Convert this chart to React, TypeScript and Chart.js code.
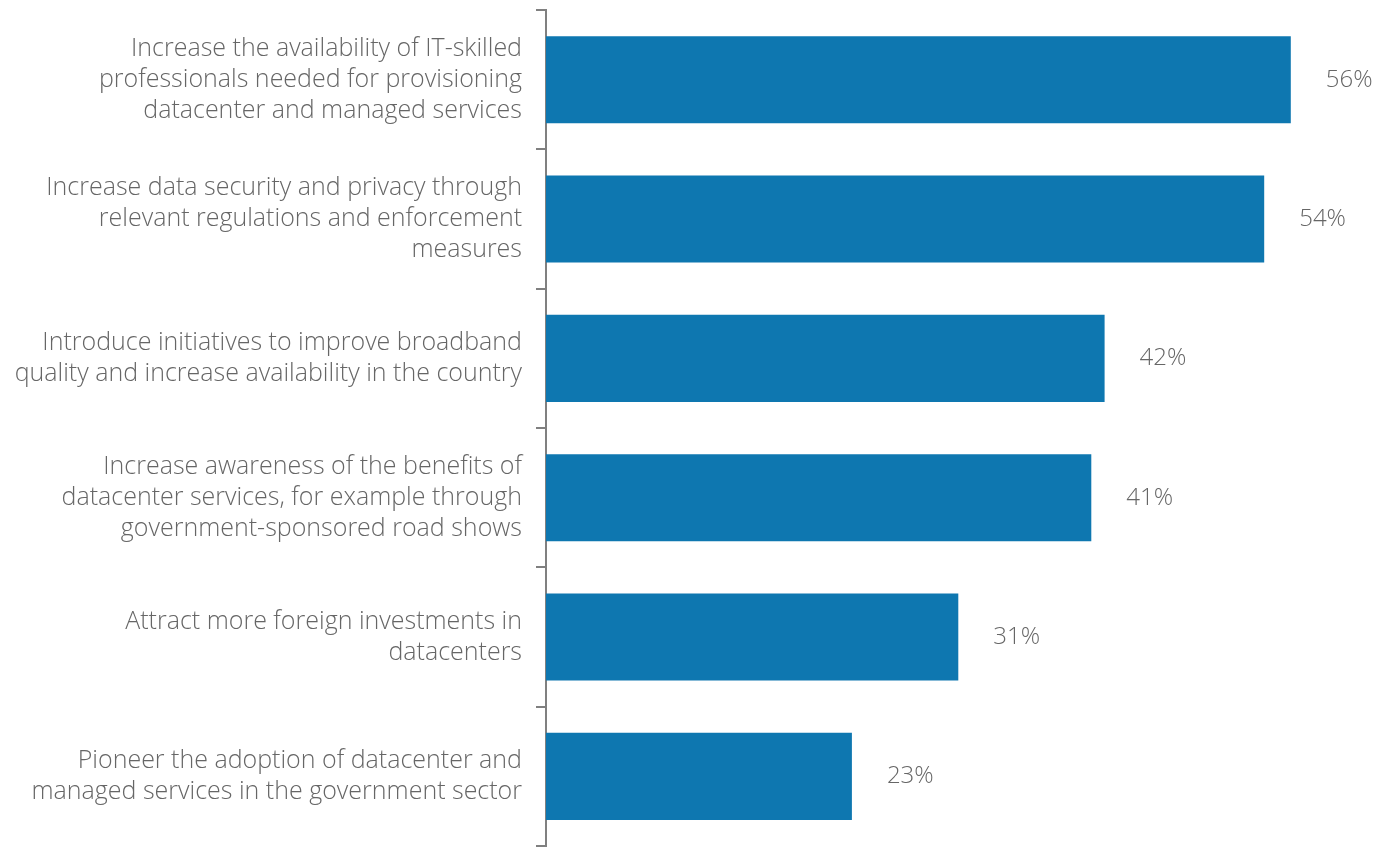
import React, { useEffect, useRef } from "react";
import { Chart, registerables } from "chart.js";

Chart.register(...registerables);

const categories: string[][] = [
  ["Increase the availability of IT-skilled", "professionals needed for provisioning", "datacenter and managed services"],
  ["Increase data security and privacy through", "relevant regulations and enforcement", "measures"],
  ["Introduce initiatives to improve broadband", "quality and increase availability in the country"],
  ["Increase awareness of the benefits of", "datacenter services, for example through", "government-sponsored road shows"],
  ["Attract more foreign investments in", "datacenters"],
  ["Pioneer the adoption of datacenter and", "managed services in the government sector"],
];
const values: number[] = [56, 54, 42, 41, 31, 23];
const valueLabels: string[] = ["56%", "54%", "42%", "41%", "31%", "23%"];

const FONT = "'Open Sans'";
const TEXT_COLOR = "#666666";
const BAR_COLOR = "#0e77b0";
const AXIS_COLOR = "#808080";

const valueLabelPlugin = {
  id: "valueLabels",
  afterDatasetsDraw(chart: any) {
    const ctx = chart.ctx;
    const meta = chart.getDatasetMeta(0);
    ctx.save();
    ctx.font = `300 24px ${FONT}`;
    ctx.fillStyle = TEXT_COLOR;
    ctx.textAlign = "left";
    ctx.textBaseline = "middle";
    meta.data.forEach((bar: any, i: number) => {
      ctx.fillText(valueLabels[i], bar.x + 35, bar.y);
    });
    ctx.restore();
  },
};

export default function App() {
  const ref = useRef<HTMLCanvasElement | null>(null);
  useEffect(() => {
    document.body.style.margin = "0";
    if (!ref.current) return;
    const chart = new Chart(ref.current, {
      type: "bar",
      data: {
        labels: categories as any,
        datasets: [
          {
            data: values,
            backgroundColor: BAR_COLOR,
            borderWidth: 0,
            categoryPercentage: 1,
            barPercentage: 0.625,
          },
        ],
      },
      options: {
        indexAxis: "y",
        animation: false,
        responsive: false,
        maintainAspectRatio: false,
        layout: { padding: { top: 10, bottom: 1, left: 0, right: 52 } },
        plugins: { legend: { display: false }, tooltip: { enabled: false } },
        scales: {
          x: { display: false, min: 0, max: 60 },
          y: {
            afterFit: (scale: any) => {
              scale.width = 546;
              scale.paddingTop = 0;
              scale.paddingBottom = 0;
            },
            border: { display: true, color: AXIS_COLOR, width: 2 },
            grid: {
              drawOnChartArea: false,
              drawTicks: true,
              tickLength: 10,
              color: AXIS_COLOR,
              lineWidth: 2,
              offset: true,
            },
            ticks: {
              padding: 14,
              color: TEXT_COLOR,
              font: { family: FONT, size: 25, weight: "300" as any, lineHeight: 1.24 },
              autoSkip: false,
            },
          },
        },
      },
      plugins: [valueLabelPlugin],
    });
    return () => chart.destroy();
  }, []);
  return (
    <div style={{ position: "absolute", left: 0, top: 0, width: 1396, height: 847 }}>
      <canvas ref={ref} width={1396} height={847} style={{ display: "block" }} />
    </div>
  );
}
